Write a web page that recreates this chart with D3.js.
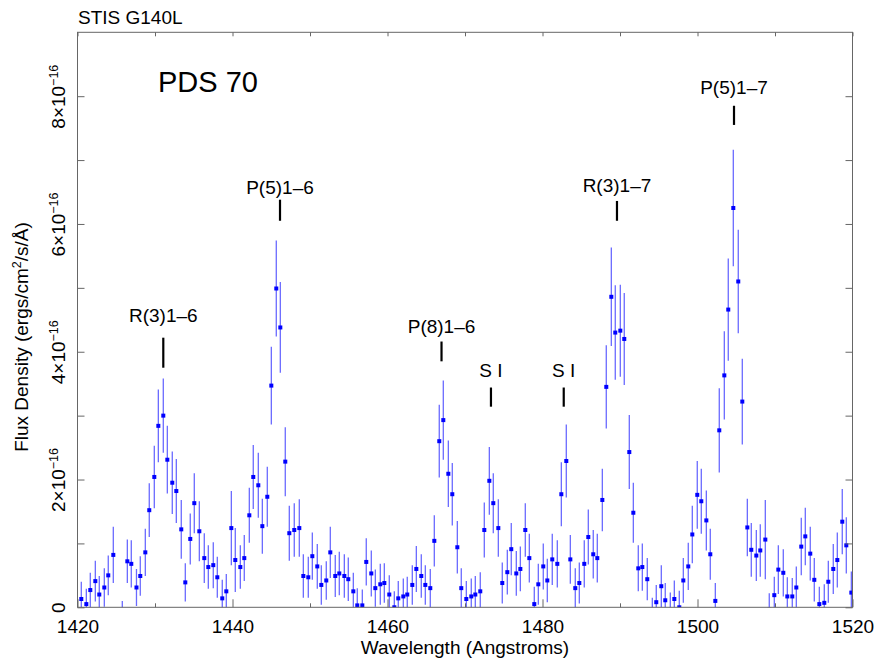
<!DOCTYPE html>
<html><head><meta charset="utf-8">
<script src="https://cdn.jsdelivr.net/npm/d3@7"></script>
<style>
body{margin:0;background:#fff}
text{font-family:"Liberation Sans",Arial,Helvetica,sans-serif;fill:#000}
</style>
</head><body>
<svg id="chart" width="878" height="661"></svg>
<script>
// Wavelength (Angstroms)
const wavelength = [
1420.49,1421.14,1421.65,1422.30,1422.81,1423.46,1423.97,1424.62,1425.20,1425.78,
1426.43,1426.94,1427.61,1428.10,1428.75,1429.26,1429.91,1430.43,1431.07,1431.59,
1432.23,1432.75,1433.39,1433.91,1434.55,1435.07,1435.72,1436.36,1436.88,1437.52,
1438.04,1438.68,1439.20,1439.85,1440.36,1441.01,1441.52,1442.17,1442.68,1443.33,
1443.85,1444.49,1445.01,1445.65,1446.17,1446.81,1447.33,1447.97,1448.62,1449.14,
1449.78,1450.30,1450.94,1451.46,1452.10,1452.62,1453.26,1453.78,1454.43,1454.94,
1455.59,1456.10,1456.75,1457.26,1457.91,1458.43,1459.07,1459.59,1460.23,1460.88,
1461.39,1462.04,1462.55,1463.20,1463.72,1464.36,1464.88,1465.52,1466.04,1466.68,
1467.20,1467.85,1468.36,1469.01,1469.52,1470.17,1470.81,1471.33,1471.97,1472.49,
1473.14,1473.65,1474.30,1474.81,1475.46,1475.97,1476.62,1477.14,1477.78,1478.30,
1478.94,1479.46,1480.10,1480.62,1481.26,1481.91,1482.43,1483.07,1483.59,1484.23,
1484.75,1485.39,1485.91,1486.55,1487.07,1487.72,1488.23,1488.88,1489.39,1490.04,
1490.55,1491.20,1491.72,1492.36,1492.88,1493.52,1494.17,1494.68,1495.33,1495.84,
1496.49,1497.01,1497.65,1498.17,1498.81,1499.33,1499.97,1500.49,1501.14,1501.65,
1502.30,1502.81,1503.46,1503.97,1504.62,1505.26,1505.78,1506.43,1506.94,1507.59,
1508.10,1508.75,1509.26,1509.91,1510.43,1511.07,1511.59,1512.23,1512.75,1513.39,
1513.91,1514.55,1515.07,1515.72,1516.36,1516.88,1517.52,1518.04,1518.68,1519.20,
1519.85];

// Flux density in units of 1e-16 ergs/cm2/s/A
const flux = [
0.13,0.05,0.27,0.41,0.20,0.31,0.50,0.82,-0.40,-0.15,
0.72,0.68,0.31,0.49,0.86,1.52,2.04,2.84,3.00,2.31,
1.95,1.82,1.22,0.39,1.07,1.63,1.19,0.77,0.63,0.66,
0.47,0.14,0.25,1.24,0.74,0.63,0.77,1.44,2.04,1.91,
1.27,1.73,3.47,4.99,4.38,2.28,1.16,1.21,1.24,0.49,
0.47,0.80,0.64,0.35,0.42,0.86,0.49,0.53,0.49,0.44,
0.25,0.03,0.03,0.71,0.53,0.30,0.36,0.38,0.20,0.00,
0.14,0.17,0.20,0.35,0.60,0.49,0.35,0.30,1.04,2.60,
2.93,2.09,1.77,0.94,0.30,0.13,0.17,0.20,0.25,1.21,
1.98,1.63,1.24,0.38,0.55,0.91,0.53,0.60,1.21,0.77,
0.05,0.36,0.64,0.42,0.75,0.68,1.77,2.29,0.75,0.30,
0.38,0.68,1.10,0.83,0.77,1.68,3.45,4.86,4.30,4.33,
4.20,2.43,1.48,0.61,0.63,0.44,-0.10,0.08,0.33,0.11,
-0.05,0.13,0.00,0.42,0.64,1.14,1.76,1.66,1.36,0.83,
0.10,2.77,3.63,4.66,6.25,5.10,3.22,1.25,0.90,0.81,
0.89,1.06,-0.03,0.19,0.59,0.54,0.17,0.17,0.31,0.95,
1.11,0.84,0.43,0.05,0.07,0.40,0.60,0.74,1.34,0.97,
0.23];

// 1-sigma errors, same units
const fluxErr = [
0.27,0.24,0.27,0.32,0.29,0.30,0.31,0.44,0.30,0.25,
0.34,0.37,0.29,0.31,0.37,0.42,0.49,0.57,0.58,0.53,
0.49,0.50,0.46,0.30,0.40,0.47,0.47,0.39,0.34,0.36,
0.32,0.29,0.27,0.58,0.50,0.34,0.36,0.43,0.50,0.51,
0.43,0.47,0.61,0.75,0.71,0.54,0.43,0.42,0.45,0.34,
0.32,0.37,0.35,0.31,0.30,0.40,0.33,0.34,0.34,0.34,
0.29,0.27,0.25,0.37,0.36,0.29,0.32,0.31,0.30,0.25,
0.27,0.28,0.28,0.31,0.36,0.34,0.31,0.30,0.40,0.57,
0.62,0.52,0.49,0.41,0.31,0.28,0.28,0.29,0.30,0.43,
0.53,0.47,0.45,0.32,0.35,0.41,0.35,0.35,0.42,0.38,
0.27,0.32,0.36,0.34,0.40,0.37,0.50,0.57,0.38,0.31,
0.32,0.37,0.43,0.38,0.38,0.49,0.65,0.77,0.74,0.72,
0.72,0.58,0.47,0.36,0.37,0.33,0.25,0.27,0.33,0.27,
0.28,0.29,0.26,0.35,0.37,0.45,0.53,0.51,0.47,0.40,
0.28,0.66,0.69,0.80,0.91,0.81,0.67,0.45,0.42,0.40,
0.41,0.62,0.25,0.29,0.38,0.37,0.30,0.29,0.33,0.45,
0.45,0.42,0.34,0.27,0.29,0.33,0.39,0.43,0.51,0.44,
0.33];

const xMajorTicks = [1420,1440,1460,1480,1500,1520];
const xMinorTicks = [1430,1450,1470,1490,1510];
const yMajorTicks = [0,2,4,6,8];
const yMinorTicks = [1,3,5,7];
const yTickLabels = ["0","2×10","4×10","6×10","8×10"];

// Line identifications
const lineNames = ["R(3)1–6","P(5)1–6","P(8)1–6","S I","S I","R(3)1–7","P(5)1–7"];
const lineWave = [1431.07,1446.13,1466.97,1473.35,1482.74,1489.61,1504.71];
const lineTextFlux = [4.47,6.47,4.30,3.61,3.61,6.50,8.04];
const lineTopFlux = [4.22,6.38,4.16,3.44,3.44,6.36,7.85];
const lineBottomFlux = [3.75,6.05,3.85,3.14,3.14,6.05,7.55];

const svg = d3.select("#chart");
const L = 77.5, R = 852.5, T = 32.3, B = 607.3;
const x = d3.scaleLinear().domain([1420,1520]).range([L,R]);
const y = d3.scaleLinear().domain([0,9]).range([B,T]);

svg.append("defs").append("clipPath").attr("id","plotclip")
  .append("rect").attr("x",L).attr("y",T).attr("width",R-L).attr("height",B-T);

const data = wavelength.map((w,i)=>({w, f:flux[i], e:fluxErr[i]}));

const plot = svg.append("g").attr("clip-path","url(#plotclip)");
plot.selectAll("line.err").data(data).join("line").attr("class","err")
  .attr("x1",d=>x(d.w)).attr("x2",d=>x(d.w))
  .attr("y1",d=>y(d.f+d.e)).attr("y2",d=>y(d.f-d.e))
  .attr("stroke","#6a6aff").attr("stroke-width",1.3);
plot.selectAll("rect.pt").data(data).join("rect").attr("class","pt")
  .attr("x",d=>x(d.w)-2).attr("y",d=>y(d.f)-2)
  .attr("width",4).attr("height",4).attr("fill","#0000ff");

// Axes (inward ticks)
const axisColor = "#666";
function styleAxis(g){
  g.select(".domain").remove();
  g.selectAll(".tick line").attr("stroke",axisColor).attr("stroke-width",1);
}
svg.append("g").attr("transform",`translate(0,${B})`)
  .call(d3.axisBottom(x).tickValues(xMajorTicks).tickSize(-8).tickPadding(12).tickFormat(d3.format("d")))
  .call(styleAxis)
  .call(g=>g.selectAll("text").attr("font-size",19).attr("font-family","Liberation Sans, Arial, sans-serif").attr("fill","#000"));
svg.append("g").attr("transform",`translate(0,${B})`)
  .call(d3.axisBottom(x).tickValues(xMinorTicks).tickSize(-4).tickFormat(""))
  .call(styleAxis);
svg.append("g").attr("transform",`translate(0,${T})`)
  .call(d3.axisTop(x).tickValues(xMajorTicks.concat(xMinorTicks)).tickSize(-4).tickFormat(""))
  .call(styleAxis);
svg.append("g").attr("transform",`translate(${R},0)`)
  .call(d3.axisRight(y).tickValues(yMajorTicks.concat(yMinorTicks)).tickSize(-7).tickFormat(""))
  .call(styleAxis);
svg.append("g").attr("transform",`translate(${L},0)`)
  .call(d3.axisLeft(y).tickValues(yMinorTicks).tickSize(-7).tickFormat(""))
  .call(styleAxis);
const yAx = svg.append("g").attr("transform",`translate(${L},0)`)
  .call(d3.axisLeft(y).tickValues(yMajorTicks).tickSize(-7).tickFormat(""))
  .call(styleAxis);
yAx.selectAll(".tick").each(function(d,i){
  const t = d3.select(this).append("text")
    .attr("transform","translate(-13,0) rotate(-90)")
    .attr("text-anchor","middle").attr("font-size",19)
    .attr("font-family","Liberation Sans, Arial, sans-serif").attr("fill","#000");
  t.append("tspan").text(yTickLabels[i]);
  if (d !== 0) {
    t.append("tspan").attr("font-size",12.5).attr("dy",-7).text("−16");
  }
});

// Frame
svg.append("rect").attr("x",L).attr("y",T).attr("width",R-L).attr("height",B-T)
  .attr("fill","none").attr("stroke",axisColor).attr("stroke-width",1);

// Line markers and labels
const ann = svg.append("g");
lineNames.forEach((n,i)=>{
  ann.append("line").attr("x1",x(lineWave[i])).attr("x2",x(lineWave[i]))
    .attr("y1",y(lineTopFlux[i])).attr("y2",y(lineBottomFlux[i]))
    .attr("stroke","#000").attr("stroke-width",2.2);
  ann.append("text").attr("x",x(lineWave[i])).attr("y",y(lineTextFlux[i]))
    .attr("text-anchor","middle").attr("font-size",19).text(n);
});

// Titles
svg.append("text").attr("x",78).attr("y",24).attr("font-size",19).text("STIS G140L");
svg.append("text").attr("x",158).attr("y",92).attr("font-size",29).text("PDS 70");
svg.append("text").attr("x",(L+R)/2).attr("y",654).attr("text-anchor","middle")
  .attr("font-size",19).text("Wavelength (Angstroms)");
const yt = svg.append("text").attr("transform","translate(28,337) rotate(-90)")
  .attr("text-anchor","middle").attr("font-size",19);
yt.append("tspan").text("Flux Density (ergs/cm");
yt.append("tspan").attr("font-size",12.5).attr("dy",-7).text("2");
yt.append("tspan").attr("dy",7).text("/s/Å)");
</script>
</body></html>
